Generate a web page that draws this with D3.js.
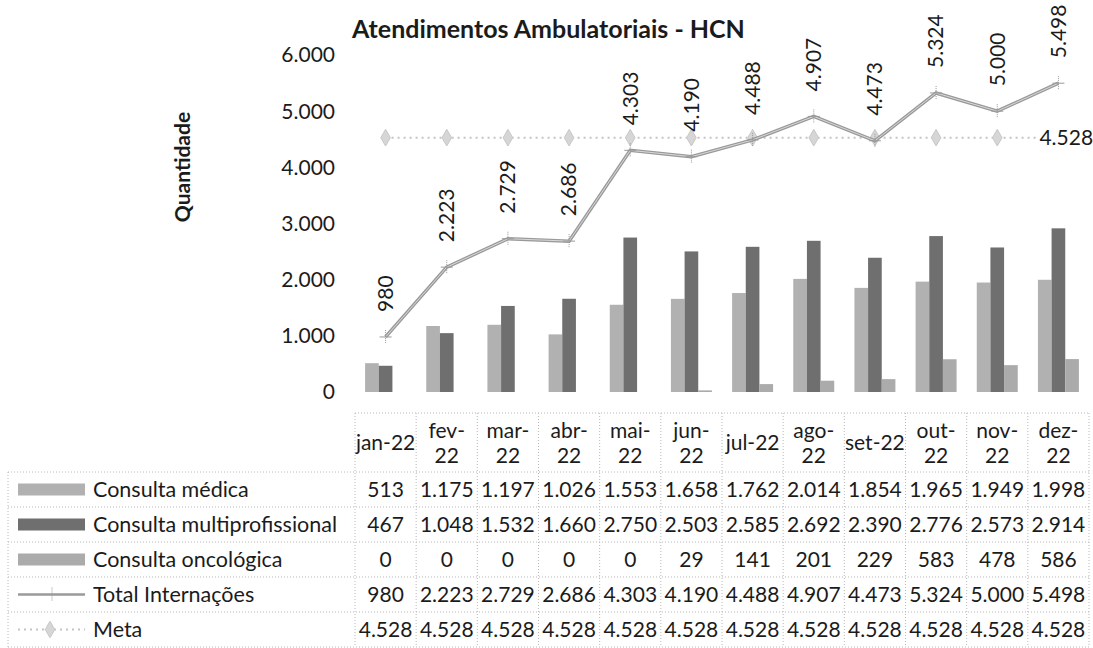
<!DOCTYPE html>
<html>
<head>
<meta charset="utf-8">
<script src="https://cdn.jsdelivr.net/npm/d3@7"></script>
<style>
  body { margin: 0; background: #fff; }
  text { font-family: Lato, "Open Sans", sans-serif; fill: #1b1b1b; }
</style>
</head>
<body>
<div id="chart"></div>
<script>
var months = ["jan-22", "fev-22", "mar-22", "abr-22", "mai-22", "jun-22",
  "jul-22", "ago-22", "set-22", "out-22", "nov-22", "dez-22"];
var singleLineHeaders = ["jan-22", "jul-22", "set-22"];
var consultaMedica = [513, 1175, 1197, 1026, 1553, 1658, 1762, 2014, 1854, 1965, 1949, 1998];
var consultaMulti = [467, 1048, 1532, 1660, 2750, 2503, 2585, 2692, 2390, 2776, 2573, 2914];
var consultaOnco = [0, 0, 0, 0, 0, 29, 141, 201, 229, 583, 478, 586];
var totalInternacoes = [980, 2223, 2729, 2686, 4303, 4190, 4488, 4907, 4473, 5324, 5000, 5498];
var meta = [4528, 4528, 4528, 4528, 4528, 4528, 4528, 4528, 4528, 4528, 4528, 4528];
var yTicks = [0, 1000, 2000, 3000, 4000, 5000, 6000];
var seriesNames = ["Consulta médica", "Consulta multiprofissional", "Consulta oncológica",
  "Total Internações", "Meta"];

var width = 1093,
  height = 648;

var ptBR = d3.formatLocale({ decimal: ",", thousands: ".", grouping: [3], currency: ["R$", ""] });
var fmt = ptBR.format(",d");

var svg = d3.select("#chart")
  .append("svg")
  .attr("width", width)
  .attr("height", height);

// scales
var x = d3.scaleBand()
  .domain(months)
  .range([355, 1089]);

var y = d3.scaleLinear()
  .domain([0, 6000])
  .range([392, 55]);

var barKeys = ["med", "multi", "onco"];
var barColors = { med: "#b1b1b1", multi: "#6f6f6f", onco: "#ababab" };
var groupW = x.bandwidth() * 0.67;
var x1 = d3.scaleBand()
  .domain(barKeys)
  .range([0, groupW]);

var cx = function(m) { return x(m) + x.bandwidth() / 2; };

// title
svg.append("text")
  .attr("x", 352)
  .attr("y", 38)
  .style("font-size", "25px")
  .style("font-weight", "bold")
  .text("Atendimentos Ambulatoriais - HCN");

// y axis title
svg.append("text")
  .attr("transform", "translate(190,167) rotate(-90)")
  .attr("text-anchor", "middle")
  .style("font-size", "21px")
  .style("font-weight", "bold")
  .text("Quantidade");

// y tick labels
svg.append("g")
  .selectAll("text")
  .data(yTicks)
  .enter().append("text")
  .attr("x", 335)
  .attr("y", function(d) { return y(d); })
  .attr("dy", "0.35em")
  .attr("text-anchor", "end")
  .style("font-size", "21px")
  .text(function(d) { return fmt(d); });

// bars
var barData = months.map(function(m, i) {
  return { m: m, med: consultaMedica[i], multi: consultaMulti[i], onco: consultaOnco[i] };
});

svg.append("g")
  .selectAll("g")
  .data(barData)
  .enter().append("g")
  .attr("transform", function(d) {
    return "translate(" + (x(d.m) + (x.bandwidth() - groupW) / 2) + ",0)";
  })
  .selectAll("rect")
  .data(function(d) { return barKeys.map(function(k) { return { k: k, v: d[k] }; }); })
  .enter().append("rect")
  .attr("x", function(d) { return x1(d.k); })
  .attr("width", x1.bandwidth())
  .attr("y", function(d) { return y(d.v); })
  .attr("height", function(d) { return y(0) - y(d.v); })
  .attr("fill", function(d) { return barColors[d.k]; });

// meta line
var lineGen = d3.line()
  .x(function(d) { return cx(d.m); })
  .y(function(d) { return y(d.v); });

var metaData = months.map(function(m, i) { return { m: m, v: meta[i] }; });
var totalData = months.map(function(m, i) { return { m: m, v: totalInternacoes[i] }; });

svg.append("path")
  .datum(metaData)
  .attr("d", lineGen)
  .attr("fill", "none")
  .attr("stroke", "#c4c4c4")
  .attr("stroke-width", 2)
  .attr("stroke-dasharray", "2,4");

svg.append("g")
  .selectAll("path")
  .data(metaData)
  .enter().append("path")
  .attr("transform", function(d) { return "translate(" + cx(d.m) + "," + y(d.v) + ")"; })
  .attr("d", d3.symbol().type(d3.symbolDiamond).size(80))
  .attr("fill", "#d6d6d6")
  .attr("stroke", "#c8c8c8");

// total line (scanned look: grey outline with light core)
svg.append("path")
  .datum(totalData)
  .attr("d", lineGen)
  .attr("fill", "none")
  .attr("stroke", "#9a9a9a")
  .attr("stroke-width", 3.5);

svg.append("path")
  .datum(totalData)
  .attr("d", lineGen)
  .attr("fill", "none")
  .attr("stroke", "#d8d8d8")
  .attr("stroke-width", 1);

var crosses = svg.append("g")
  .selectAll("g")
  .data(totalData)
  .enter().append("g")
  .attr("transform", function(d) { return "translate(" + cx(d.m) + "," + y(d.v) + ")"; });
crosses.append("line").attr("x1", 0).attr("x2", 0).attr("y1", -7).attr("y2", 7)
  .attr("stroke", "#999").attr("stroke-dasharray", "1,1");
crosses.append("line").attr("x1", -6).attr("x2", 6).attr("y1", 0).attr("y2", 0)
  .attr("stroke", "#999");

// total labels (rotated)
svg.append("g")
  .selectAll("text")
  .data(totalData)
  .enter().append("text")
  .attr("transform", function(d) {
    return "translate(" + cx(d.m) + "," + (y(d.v) - 25) + ") rotate(-90)";
  })
  .attr("dy", "0.35em")
  .style("font-size", "21px")
  .text(function(d) { return fmt(d.v); });

// meta label on last point
var lastMeta = metaData[metaData.length - 1];
svg.append("rect")
  .attr("x", cx(lastMeta.m) - 21)
  .attr("y", y(lastMeta.v) - 12)
  .attr("width", 56)
  .attr("height", 24)
  .attr("fill", "#fff");
svg.append("text")
  .attr("x", cx(lastMeta.m) - 19)
  .attr("y", y(lastMeta.v))
  .attr("dy", "0.35em")
  .style("font-size", "21px")
  .text(fmt(lastMeta.v));

// data table
var headTop = 413,
  rowTop = 472,
  rowH = 35,
  tableLeft = 8,
  tableRight = x.range()[1];

var grid = svg.append("g")
  .attr("stroke", "#b8b8b8")
  .attr("stroke-dasharray", "1,2");

grid.append("line")
  .attr("x1", x.range()[0]).attr("x2", tableRight)
  .attr("y1", headTop).attr("y2", headTop);

d3.range(6).forEach(function(i) {
  grid.append("line")
    .attr("x1", tableLeft).attr("x2", tableRight)
    .attr("y1", rowTop + i * rowH).attr("y2", rowTop + i * rowH);
});

months.forEach(function(m) {
  grid.append("line")
    .attr("x1", x(m)).attr("x2", x(m))
    .attr("y1", headTop).attr("y2", rowTop + 5 * rowH);
});
grid.append("line")
  .attr("x1", tableRight).attr("x2", tableRight)
  .attr("y1", headTop).attr("y2", rowTop + 5 * rowH);
grid.append("line")
  .attr("x1", tableLeft).attr("x2", tableLeft)
  .attr("y1", rowTop).attr("y2", rowTop + 5 * rowH);

// header
var head = svg.append("g")
  .selectAll("text")
  .data(months)
  .enter().append("text")
  .attr("x", cx)
  .attr("text-anchor", "middle")
  .style("font-size", "21px");

head.each(function(m) {
  var t = d3.select(this);
  if (singleLineHeaders.indexOf(m) >= 0) {
    t.append("tspan").attr("x", cx(m)).attr("y", 450).text(m);
  } else {
    var parts = m.split("-");
    t.append("tspan").attr("x", cx(m)).attr("y", 438).text(parts[0] + "-");
    t.append("tspan").attr("x", cx(m)).attr("y", 463).text(parts[1]);
  }
});

// rows
var rows = [consultaMedica, consultaMulti, consultaOnco, totalInternacoes, meta];

rows.forEach(function(vals, r) {
  var ry = rowTop + r * rowH + rowH / 2;
  svg.append("g")
    .selectAll("text")
    .data(vals)
    .enter().append("text")
    .attr("x", function(d, i) { return cx(months[i]); })
    .attr("y", ry)
    .attr("dy", "0.35em")
    .attr("text-anchor", "middle")
    .style("font-size", "21px")
    .text(function(d) { return fmt(d); });

  svg.append("text")
    .attr("x", 93)
    .attr("y", ry)
    .attr("dy", "0.35em")
    .style("font-size", "21.5px")
    .text(seriesNames[r]);
});

// legend keys inside the table
var keyY = function(r) { return rowTop + r * rowH + rowH / 2; };
[["med", 0], ["multi", 1], ["onco", 2]].forEach(function(k) {
  svg.append("rect")
    .attr("x", 18)
    .attr("y", keyY(k[1]) - 6)
    .attr("width", 67)
    .attr("height", 12)
    .attr("fill", barColors[k[0]]);
});

svg.append("line")
  .attr("x1", 18).attr("x2", 85)
  .attr("y1", keyY(3)).attr("y2", keyY(3))
  .attr("stroke", "#9a9a9a").attr("stroke-width", 2.5);
svg.append("line")
  .attr("x1", 52).attr("x2", 52)
  .attr("y1", keyY(3) - 7).attr("y2", keyY(3) + 7)
  .attr("stroke", "#999").attr("stroke-dasharray", "1,1");

svg.append("line")
  .attr("x1", 18).attr("x2", 85)
  .attr("y1", keyY(4)).attr("y2", keyY(4))
  .attr("stroke", "#c4c4c4").attr("stroke-width", 2)
  .attr("stroke-dasharray", "2,4");
svg.append("path")
  .attr("transform", "translate(50," + keyY(4) + ")")
  .attr("d", d3.symbol().type(d3.symbolDiamond).size(80))
  .attr("fill", "#d6d6d6")
  .attr("stroke", "#c8c8c8");
</script>
</body>
</html>
